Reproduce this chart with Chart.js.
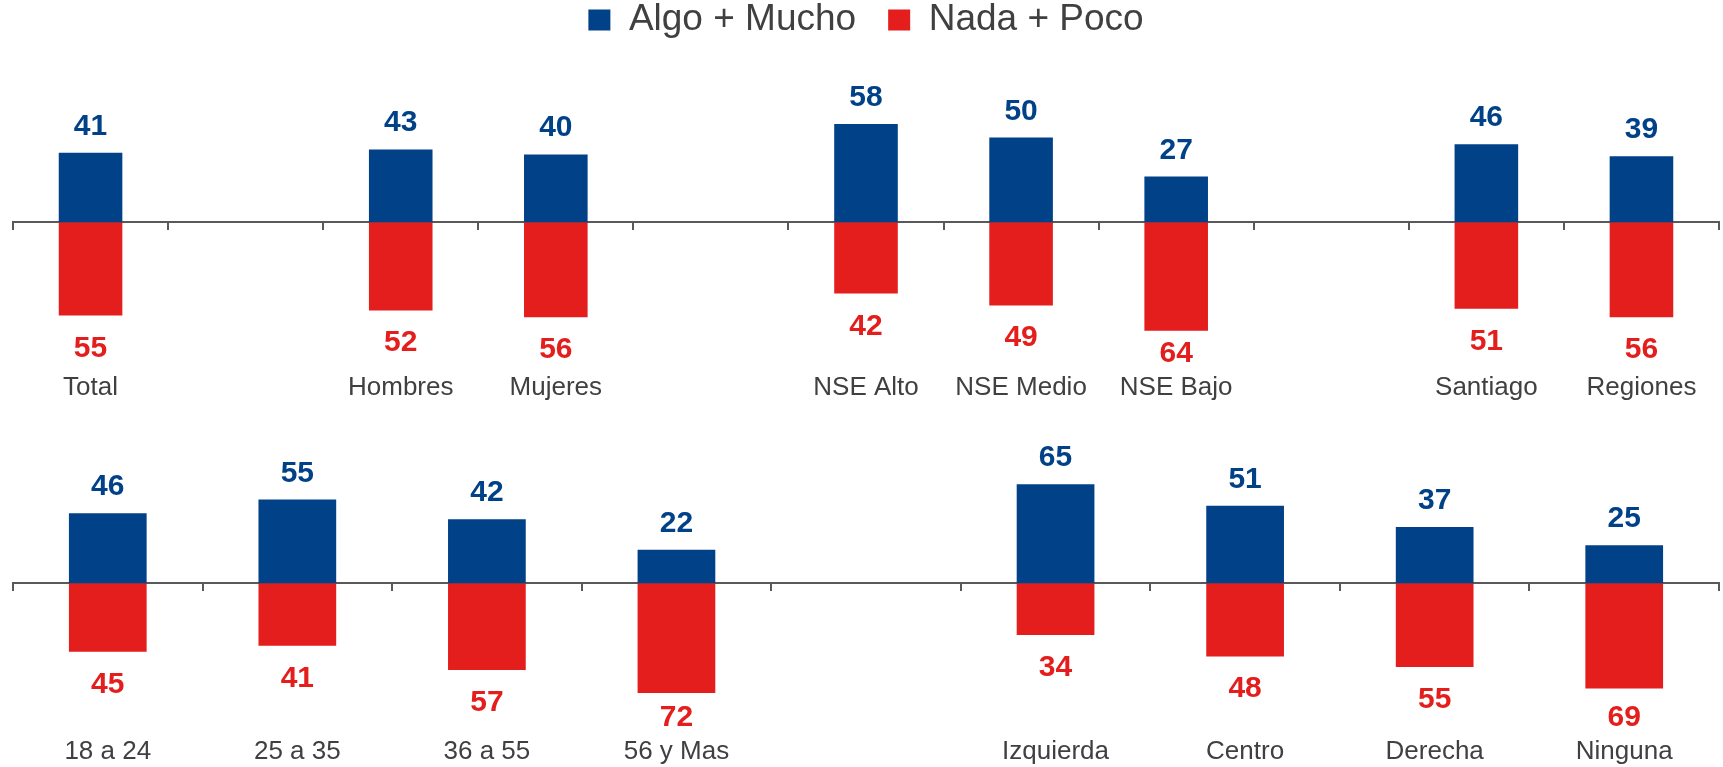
<!DOCTYPE html>
<html>
<head>
<meta charset="utf-8">
<script src="https://cdn.jsdelivr.net/npm/chart.js"></script>
<style>
    html, body { margin: 0; padding: 0; background: #fff; }
    #wrap { position: relative; width: 1723px; height: 767px; overflow: hidden; }
    canvas { position: absolute; left: 0; }
</style>
</head>
<body>
<div id="wrap">
    <canvas id="topChart" width="1723" height="407" style="top:0"></canvas>
    <canvas id="bottomChart" width="1723" height="361" style="top:410px"></canvas>
</div>
<script>
// ----------------- Data -------------------
const seriesNames = ['Algo + Mucho', 'Nada + Poco'];

const topLabels = ['Total', '', 'Hombres', 'Mujeres', '', 'NSE Alto', 'NSE Medio', 'NSE Bajo', '', 'Santiago', 'Regiones'];
const topAlgo   = [41, null, 43, 40, null, 58, 50, 27, null, 46, 39];
const topNada   = [55, null, 52, 56, null, 42, 49, 64, null, 51, 56];

const bottomLabels = ['18 a 24', '25 a 35', '36 a 55', '56 y Mas', '', 'Izquierda', 'Centro', 'Derecha', 'Ninguna'];
const bottomAlgo   = [46, 55, 42, 22, null, 65, 51, 37, 25];
const bottomNada   = [45, 41, 57, 72, null, 34, 48, 55, 69];

const BLUE = '#004187';
const RED = '#E31E1C';
const TEXT = '#404040';
const AXIS = '#595959';
const FONT = '"Liberation Sans", Arial, sans-serif';

// value labels above the blue bars and below the red ones
// (red ones are kept inside the plot area, like the original)
const valueLabels = {
    id: 'valueLabels',
    afterDatasetsDraw(chart) {
        const ctx = chart.ctx;
        const limit = chart.chartArea.bottom - 6;
        ctx.save();
        ctx.font = 'bold 30px ' + FONT;
        ctx.textAlign = 'center';
        ctx.textBaseline = 'alphabetic';
        chart.data.datasets.forEach((ds, di) => {
            const meta = chart.getDatasetMeta(di);
            meta.data.forEach((bar, i) => {
                const v = ds.values[i];
                if (v === null) return;
                ctx.fillStyle = ds.backgroundColor;
                if (di === 0) {
                    ctx.fillText(String(v), bar.x, bar.y - 18);
                } else {
                    ctx.fillText(String(v), bar.x, Math.min(bar.y + 41, limit));
                }
            });
        });
        ctx.restore();
    }
};

function makeChart(id, labels, algo, nada, yMin, yMax, showLegend, padTop) {
    const ctx = document.getElementById(id).getContext('2d');
    return new Chart(ctx, {
        type: 'bar',
        data: {
            labels: labels,
            datasets: [{
                label: seriesNames[0],
                values: algo,
                data: algo,
                backgroundColor: BLUE,
                barPercentage: 0.41,
                categoryPercentage: 1
            }, {
                label: seriesNames[1],
                values: nada,
                data: nada.map(v => v === null ? null : -v),
                backgroundColor: RED,
                barPercentage: 0.41,
                categoryPercentage: 1
            }]
        },
        options: {
            responsive: false,
            animation: false,
            devicePixelRatio: 1,
            layout: { padding: { top: padTop, left: 13, right: 4, bottom: 0 } },
            plugins: {
                legend: {
                    display: showLegend,
                    position: 'top',
                    labels: {
                        boxWidth: 22,
                        boxHeight: 21,
                        padding: 32,
                        color: TEXT,
                        font: { size: 37, family: FONT }
                    }
                },
                tooltip: { enabled: false }
            },
            scales: {
                // the axis line sits on zero, drawn over the bars
                x: {
                    stacked: true,
                    position: { y: 0 },
                    offset: true,
                    z: 1,
                    afterFit(scale) { scale.height = 0; },
                    grid: {
                        offset: true,
                        drawOnChartArea: false,
                        drawTicks: true,
                        tickLength: 7,
                        color: AXIS,
                        lineWidth: 2
                    },
                    border: { display: true, color: AXIS, width: 2 },
                    ticks: { display: false }
                },
                // category names along the bottom
                xl: {
                    type: 'category',
                    position: 'bottom',
                    offset: true,
                    labels: labels,
                    grid: { display: false, drawTicks: false },
                    border: { display: false },
                    ticks: {
                        color: TEXT,
                        padding: 4,
                        maxRotation: 0,
                        autoSkip: false,
                        font: { size: 26, family: FONT }
                    }
                },
                y: {
                    stacked: true,
                    display: false,
                    min: yMin,
                    max: yMax
                }
            }
        },
        plugins: [valueLabels]
    });
}

makeChart('topChart', topLabels, topAlgo, topNada, -85.8, 102.5, true, -30.5);
makeChart('bottomChart', bottomLabels, bottomAlgo, bottomNada, -97.5, 113.8, false, 0);
</script>
</body>
</html>
